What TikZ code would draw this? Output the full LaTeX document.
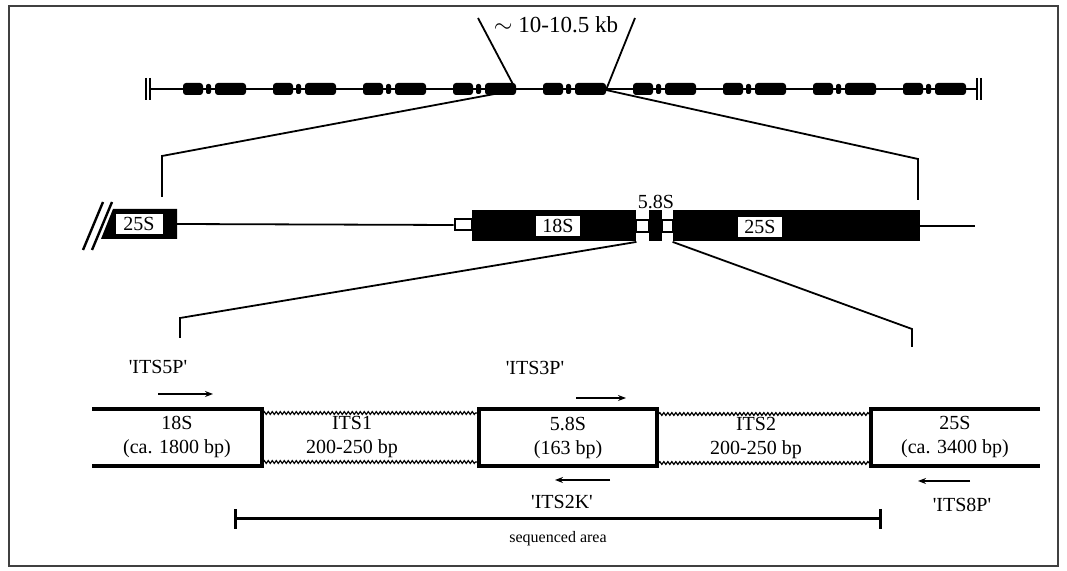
\documentclass[tikz,border=0pt]{standalone}
\usepackage{fontspec}
\setmainfont{Liberation Serif}
\usetikzlibrary{positioning, arrows.meta, decorations.pathmorphing, calc}

\begin{document}
\begin{tikzpicture}[x=0.5pt, y=-0.5pt,
  every node/.style={font=\fontsize{10}{12}\selectfont, inner sep=0pt},
  thinline/.style={line width=0.9pt},
  rdna/.style={fill=black, inner sep=0pt},
  labelbox/.style={fill=white, inner sep=0pt, minimum height=10pt},
  spacer/.style={draw, fill=white, line width=1pt, inner sep=0pt},
  unitbox/.style={line width=1.6pt},
  itsline/.style={decorate, decoration={snake, amplitude=0.7pt, segment length=2pt}, line width=0.6pt},
  primer/.style={line width=0.8pt, -{Stealth[length=4pt, width=3pt]}}
]
  \useasboundingbox (0,0) rectangle (1067,571);
  \draw[black!75, line width=0.6pt] (9,6) rectangle (1058,566);

  % Chromosome with the repeat units
  \coordinate (chl) at (150,89);
  \coordinate (chr) at (977,89);
  \draw[thinline] (chl) -- (chr);
  \draw[line width=1pt] (146,78) -- (146,100) (chl) ++(0,-11) -- ++(0,22);
  \draw[line width=1pt] (chr) ++(0,-11) -- ++(0,22) (981,78) -- (981,100);
  \foreach \i in {0,...,8} {
    \fill[rounded corners=1.5pt] (183+90*\i, 83) rectangle ++(20,12);
    \fill[rounded corners=1pt] (206+90*\i, 84) rectangle ++(5,10);
    \fill[rounded corners=1.5pt] (215+90*\i, 83) rectangle ++(31,12);
  }
  \coordinate (u4end) at (516,90);
  \coordinate (u5end) at (606,90);
  \node (kb) at (556,25) {\fontsize{11.5}{13}\selectfont$\sim$ 10-10.5 kb};
  \coordinate (kbl) at (478,18);
  \coordinate (kbr) at (635,18);
  \draw[thinline] (kbl) -- (u4end);
  \draw[thinline] (kbr) -- (u5end);

  % One repeat unit
  \draw[line width=1.2pt] (83,250) -- (103,202) (92,250) -- (112,202);
  \fill (113,209) -- (177,209) -- (177,239) -- (101,239) -- cycle;
  \node[labelbox, minimum width=23.5pt] (s25a) at (139,224) {25S};
  \coordinate (e25a) at (177,224);
  \node[spacer, minimum width=8.5pt, minimum height=5.5pt] (ets) at (463,225) {};
  \draw[thinline] (e25a) -- (ets.west);
  \node[rdna, minimum width=82pt, minimum height=15.5pt] (b18) at (554,226) {};
  \node[labelbox, minimum width=22pt] (l18) at (558,226) {18S};
  \node[spacer, minimum width=6.5pt, minimum height=6pt] (i1) at (642.5,226) {};
  \node[rdna, minimum width=6.5pt, minimum height=15.5pt] (b58) at (655.5,226) {};
  \node[spacer, minimum width=5.5pt, minimum height=6pt] (i2) at (667.5,226) {};
  \node[rdna, minimum width=123.5pt, minimum height=15.5pt] (b25) at (796.5,226) {};
  \node[labelbox, minimum width=22pt] (l25) at (760,227) {25S};
  \node (t58) at (656,202) {5.8S};
  \coordinate (ender) at (975,226);
  \draw[thinline] (b25.east) -- (ender);

  % Zoom brackets
  \coordinate (tl) at (162,156);
  \coordinate (tlb) at (162,197);
  \coordinate (tr) at (918,159);
  \coordinate (trb) at (918,200);
  \draw[thinline] (u4end) -- (tl) -- (tlb);
  \draw[thinline] (u5end) -- (tr) -- (trb);
  \coordinate (bl) at (180,318);
  \coordinate (blb) at (180,338);
  \coordinate (br) at (912,329);
  \coordinate (brb) at (912,347);
  \draw[thinline] (b18.south east) -- (bl) -- (blb);
  \draw[thinline] (b25.south west) -- (br) -- (brb);

  % Sequenced region
  \coordinate (a18) at (92,409);
  \coordinate (c18) at (92,466);
  \draw[unitbox] (a18) -| (262,466) -- (c18);
  \node[align=center] (t18) at (177,437) {18S\\(ca. 1800 bp)};
  \node[draw, unitbox, minimum width=89pt, minimum height=28.5pt, align=center] (m58) at (568,437.5) {5.8S\\(163 bp)};
  \coordinate (a25) at (1040,409);
  \coordinate (c25) at (1040,466);
  \draw[unitbox] (a25) -| (871,466) -- (c25);
  \node[align=center] (t25) at (955,437) {25S\\(ca. 3400 bp)};
  \draw[itsline] (263,413) -- (m58.west |- 0,413);
  \draw[itsline] (263,462) -- (m58.west |- 0,462);
  \draw[itsline] (m58.east |- 0,414) -- (870,414);
  \draw[itsline] (m58.east |- 0,463) -- (870,463);
  \node[align=center] (its1) at (352,437) {ITS1\\200-250 bp};
  \node[align=center] (its2) at (756,438) {ITS2\\200-250 bp};

  % Primers
  \node (p5) at (158,367) {\textquotesingle ITS5P\textquotesingle};
  \coordinate (p5a) at (158,394);
  \coordinate (p5b) at (213,394);
  \draw[primer] (p5a) -- (p5b);
  \node (p3) at (535,368) {\textquotesingle ITS3P\textquotesingle};
  \coordinate (p3a) at (576,398);
  \coordinate (p3b) at (626,398);
  \draw[primer] (p3a) -- (p3b);
  \node (p2k) at (562,502) {\textquotesingle ITS2K\textquotesingle};
  \coordinate (p2a) at (610,480);
  \coordinate (p2b) at (555,480);
  \draw[primer] (p2a) -- (p2b);
  \node (p8) at (962,505) {\textquotesingle ITS8P\textquotesingle};
  \coordinate (p8a) at (970,481);
  \coordinate (p8b) at (918,481);
  \draw[primer] (p8a) -- (p8b);

  \coordinate (sql) at (234,519);
  \coordinate (sqr) at (882,519);
  \draw[line width=1.5pt, {Bar[width=10pt]}-{Bar[width=10pt]}] (sql) -- (sqr);
  \node[font=\fontsize{8}{10}\selectfont] (sq) at (558,539) {sequenced area};
\end{tikzpicture}
\end{document}
